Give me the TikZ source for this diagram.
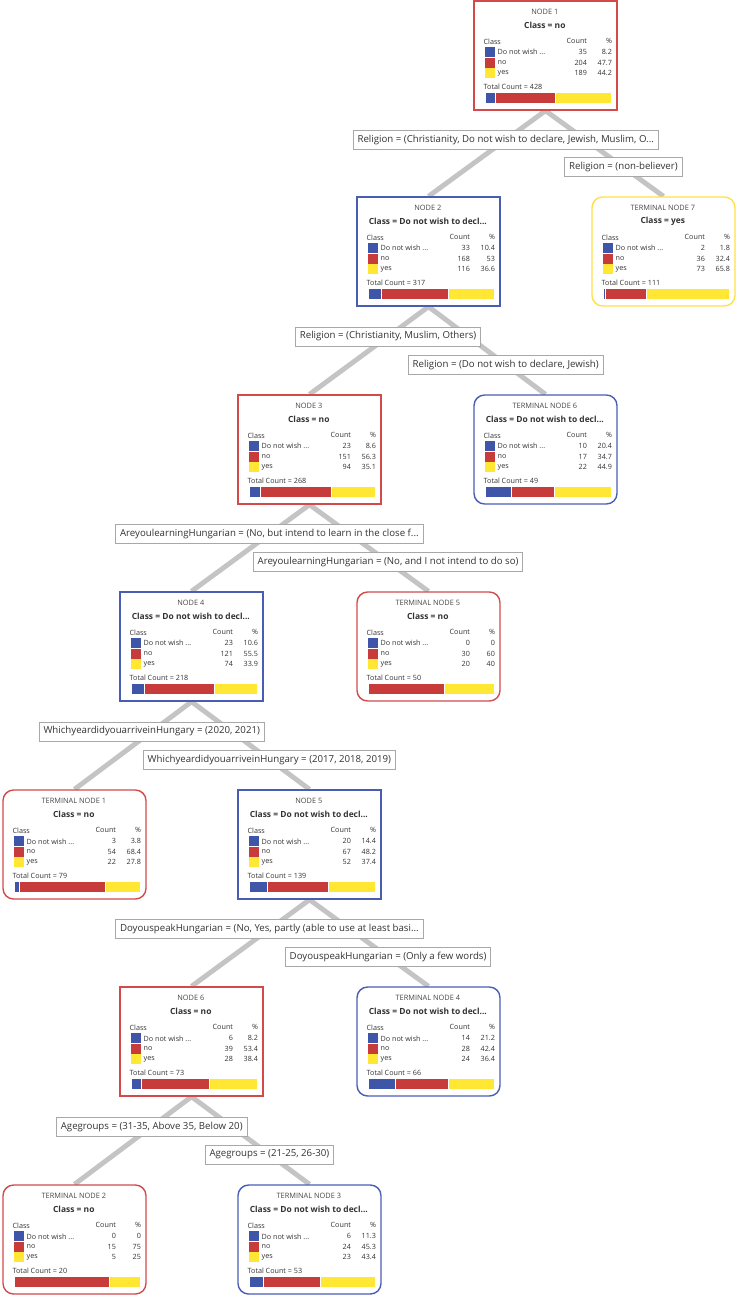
\documentclass[tikz,border=0pt]{standalone}
\usepackage{fontspec}
\setmainfont{Open Sans}
\usetikzlibrary{calc, backgrounds}
\definecolor{dnw}{HTML}{3F55A8}
\definecolor{nored}{HTML}{C83B3B}
\definecolor{yesyel}{HTML}{FFE733}
\definecolor{redframe}{HTML}{D24A4A}
\definecolor{blueframe}{HTML}{4A5DB5}
\definecolor{yelframe}{HTML}{FFE04A}
\definecolor{ink}{HTML}{333333}
\definecolor{linkgray}{HTML}{C4C4C4}
\definecolor{lblframe}{HTML}{A8A8A8}
\colorlet{row1}{dnw}
\colorlet{row2}{nored}
\colorlet{row3}{yesyel}

\newcommand{\rowname}[1]{\ifcase#1\or Do not wish ...\or no\or yes\fi}

% #1 name, #2 centre, #3 style, #4 title, #5 class, #6 count/pct rows,
% #7 total, #8 blue %, #9 red %
\newcommand{\classbox}[9]{%
  \node[#3] (#1) at (#2) {};
  \begin{scope}[shift={(#1.north west)}]
    \node[ttl] (#1-t) at (71.5,12) {#4};
    \node[cls] (#1-c) at (71.5,25.5) {#5};
    \node[txt, anchor=west] (#1-h) at (10,41) {Class};
    \node[txt, anchor=east] (#1-hc) at (114,41) {Count};
    \node[txt, anchor=east] (#1-hp) at (139,41) {\%};
    \foreach \cnt/\pct [count=\i] in {#6} {
      \fill[row\i] (12,{41.5+10.5*\i-5}) rectangle ++(10,10);
      \node[txt, anchor=west] (#1-r\i) at (24,{41.5+10.5*\i}) {\rowname{\i}};
      \node[txt, anchor=east] (#1-n\i) at (114,{41.5+10.5*\i}) {\cnt};
      \node[txt, anchor=east] (#1-p\i) at (139,{41.5+10.5*\i}) {\pct};
    }
    \node[txt, anchor=west] (#1-tot) at (10,86.5) {Total Count = #7};
    \pgfmathsetmacro\barA{12+1.26*#8}
    \pgfmathsetmacro\barB{12+1.26*(#8+#9)}
    \filldraw[fill=dnw, draw=white, line width=.3pt] (12,92) rectangle (\barA,103);
    \filldraw[fill=nored, draw=white, line width=.3pt] (\barA,92) rectangle (\barB,103);
    \filldraw[fill=yesyel, draw=white, line width=.3pt] (\barB,92) rectangle (138,103);
  \end{scope}}

\begin{document}
\begin{tikzpicture}[x=0.02cm, y=-0.02cm,
  box/.style={draw, fill=white, line width=0.8pt, minimum width=2.86cm, minimum height=2.18cm, inner sep=0pt},
  splitR/.style={box, draw=redframe},
  splitB/.style={box, draw=blueframe},
  leafR/.style={box, draw=redframe, rounded corners=6pt},
  leafB/.style={box, draw=blueframe, rounded corners=6pt},
  leafY/.style={box, draw=yelframe, rounded corners=6pt},
  ttl/.style={font=\fontsize{4.2}{5}\selectfont, text=ink!90, inner sep=0pt},
  cls/.style={font=\fontsize{4.8}{5.5}\selectfont\bfseries, text=ink, inner sep=0pt},
  txt/.style={font=\fontsize{4.1}{4.8}\selectfont, text=ink, inner sep=0pt},
  lbl/.style={draw=lblframe, fill=white, line width=.5pt, font=\fontsize{5.5}{6.5}\selectfont, text=ink, inner xsep=2.5pt, inner ysep=0pt, minimum height=0.38cm},
  edge/.style={draw=linkgray, line width=2.8pt}
]
  \useasboundingbox (0,0) rectangle (738,1300);

  \classbox{n1}{545.5,55.5}{splitR}{NODE 1}{Class = no}{35/8.2,204/47.7,189/44.2}{428}{8.2}{47.7}
  \classbox{n2}{428.5,251.5}{splitB}{NODE 2}{Class = Do not wish to decl...}{33/10.4,168/53,116/36.6}{317}{10.4}{53}
  \classbox{t7}{663.5,251.5}{leafY}{TERMINAL NODE 7}{Class = yes}{2/1.8,36/32.4,73/65.8}{111}{1.8}{32.4}
  \classbox{n3}{309.5,449.5}{splitR}{NODE 3}{Class = no}{23/8.6,151/56.3,94/35.1}{268}{8.6}{56.3}
  \classbox{t6}{545.5,449.5}{leafB}{TERMINAL NODE 6}{Class = Do not wish to decl...}{10/20.4,17/34.7,22/44.9}{49}{20.4}{34.7}
  \classbox{n4}{191.5,646.5}{splitB}{NODE 4}{Class = Do not wish to decl...}{23/10.6,121/55.5,74/33.9}{218}{10.6}{55.5}
  \classbox{t5}{428.5,646.5}{leafR}{TERMINAL NODE 5}{Class = no}{0/0,30/60,20/40}{50}{0}{60}
  \classbox{t1}{74.5,844.5}{leafR}{TERMINAL NODE 1}{Class = no}{3/3.8,54/68.4,22/27.8}{79}{3.8}{68.4}
  \classbox{n5}{309.5,844.5}{splitB}{NODE 5}{Class = Do not wish to decl...}{20/14.4,67/48.2,52/37.4}{139}{14.4}{48.2}
  \classbox{n6}{191.5,1041.5}{splitR}{NODE 6}{Class = no}{6/8.2,39/53.4,28/38.4}{73}{8.2}{53.4}
  \classbox{t4}{428.5,1041.5}{leafB}{TERMINAL NODE 4}{Class = Do not wish to decl...}{14/21.2,28/42.4,24/36.4}{66}{21.2}{42.4}
  \classbox{t2}{74.5,1239.5}{leafR}{TERMINAL NODE 2}{Class = no}{0/0,15/75,5/25}{20}{0}{75}
  \classbox{t3}{309.5,1239.5}{leafB}{TERMINAL NODE 3}{Class = Do not wish to decl...}{6/11.3,24/45.3,23/43.4}{53}{11.3}{45.3}

  % links behind the boxes
  \begin{scope}[on background layer]
    \draw[edge] (n1.south) -- (n2.north);
    \draw[edge] (n1.south) -- (t7.north);
    \draw[edge] (n2.south) -- (n3.north);
    \draw[edge] (n2.south) -- (t6.north);
    \draw[edge] (n3.south) -- (n4.north);
    \draw[edge] (n3.south) -- (t5.north);
    \draw[edge] (n4.south) -- (t1.north);
    \draw[edge] (n4.south) -- (n5.north);
    \draw[edge] (n5.south) -- (n6.north);
    \draw[edge] (n5.south) -- (t4.north);
    \draw[edge] (n6.south) -- (t2.north);
    \draw[edge] (n6.south) -- (t3.north);
  \end{scope}

  % split labels
  \node[lbl] (s1a) at ($(n1.south)!.34!(n2.north)$) {Religion = (Christianity, Do not wish to declare, Jewish, Muslim, O...};
  \node[lbl] (s1b) at ($(n1.south)!.66!(t7.north)$) {Religion = (non-believer)};
  \node[lbl] (s2a) at ($(n2.south)!.34!(n3.north)$) {Religion = (Christianity, Muslim, Others)};
  \node[lbl] (s2b) at ($(n2.south)!.66!(t6.north)$) {Religion = (Do not wish to declare, Jewish)};
  \node[lbl] (s3a) at ($(n3.south)!.34!(n4.north)$) {AreyoulearningHungarian = (No, but intend to learn in the close f...};
  \node[lbl] (s3b) at ($(n3.south)!.66!(t5.north)$) {AreyoulearningHungarian = (No, and I not intend to do so)};
  \node[lbl] (s4a) at ($(n4.south)!.34!(t1.north)$) {WhichyeardidyouarriveinHungary = (2020, 2021)};
  \node[lbl] (s4b) at ($(n4.south)!.66!(n5.north)$) {WhichyeardidyouarriveinHungary = (2017, 2018, 2019)};
  \node[lbl] (s5a) at ($(n5.south)!.34!(n6.north)$) {DoyouspeakHungarian = (No, Yes, partly (able to use at least basi...};
  \node[lbl] (s5b) at ($(n5.south)!.66!(t4.north)$) {DoyouspeakHungarian = (Only a few words)};
  \node[lbl] (s6a) at ($(n6.south)!.34!(t2.north)$) {Agegroups = (31-35, Above 35, Below 20)};
  \node[lbl] (s6b) at ($(n6.south)!.66!(t3.north)$) {Agegroups = (21-25, 26-30)};
\end{tikzpicture}
\end{document}
